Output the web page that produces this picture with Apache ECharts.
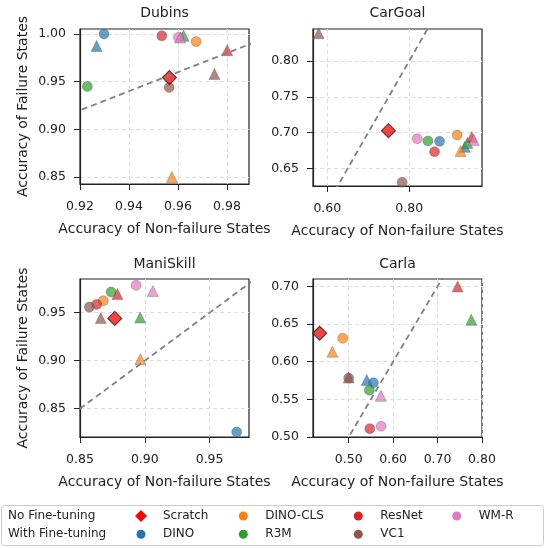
<!DOCTYPE html>
<html>
<head>
<meta charset="utf-8">
<script src="https://cdn.jsdelivr.net/npm/echarts@6/dist/echarts.min.js"></script>
<style>html,body{margin:0;padding:0;background:#fff;}#c{width:548px;height:548px;}</style>
</head>
<body>
<div id="c"></div>
<script>
// ---- data ----
const methods = ['DINO', 'DINO-CLS', 'R3M', 'ResNet', 'VC1', 'WM-R'];
const plotTitles = ['Dubins', 'CarGoal', 'ManiSkill', 'Carla'];

// per plot: values in methods order, [x (non-failure acc), y (failure acc)]
const dubinsNoFt   = [[0.9298, 1.000], [0.9674, 0.992], [0.9230, 0.9449], [0.9534, 0.998], [0.9564, 0.9438], [0.9602, 0.9962]];
const dubinsFt     = [[0.9268, 0.9874], [0.9575, 0.850], [0.9623, 0.998], [0.9801, 0.983], [0.9749, 0.958], [0.9609, 0.9962]];
const dubinsScratch = [0.9565, 0.9543];

const cargoalNoFt  = [[0.8743, 0.6877], [0.9173, 0.6966], [0.8457, 0.6882], [0.8620, 0.6732], [0.7829, 0.6306], [0.8196, 0.6914]];
const cargoalFt    = [[0.9360, 0.6800], [0.9256, 0.6742], [0.9422, 0.6854], [0.9530, 0.6938], [0.5788, 0.8387], [0.9580, 0.6896]];
const cargoalScratch = [0.7494, 0.7026];

const maniNoFt     = [[0.9709, 0.8256], [0.8680, 0.9625], [0.8740, 0.9716], [0.8629, 0.9587], [0.8572, 0.9559], [0.8933, 0.9786]];
const maniFt       = [null, [0.8966, 0.9014], [0.8964, 0.9451], [0.8789, 0.9695], [0.8660, 0.9444], [0.9062, 0.9726]];
const maniScratch  = [0.8768, 0.9441];

const carlaNoFt    = [[0.5556, 0.5720], [0.4865, 0.6311], [0.5466, 0.5622], [0.5474, 0.5111], [0.5000, 0.5782], [0.5729, 0.5142]];
const carlaFt      = [[0.5406, 0.5756], [0.4632, 0.6133], [0.7759, 0.6556], [0.7451, 0.7000], [0.5000, 0.5790], [0.5722, 0.5547]];
const carlaScratch = [0.4346, 0.6378];

// axis limits and tick labels
const xMin = [0.92, 0.565, 0.85, 0.4196];
const xMax = [0.989, 0.978, 0.9804, 0.80];
const yMin = [0.8427, 0.6253, 0.8204, 0.50];
const yMax = [1.0052, 0.8447, 0.9852, 0.7098];
const xTicks = [[0.92, 0.94, 0.96, 0.98], [0.60, 0.80], [0.85, 0.90, 0.95], [0.50, 0.60, 0.70, 0.80]];
const yTicks = [[0.85, 0.90, 0.95, 1.00], [0.65, 0.70, 0.75, 0.80], [0.85, 0.90, 0.95], [0.50, 0.55, 0.60, 0.65, 0.70]];
const diagonal = [[0, 0], [1, 1]];

// ---- style ----
const colors = {'DINO': '#1f77b4', 'DINO-CLS': '#ff7f0e', 'R3M': '#2ca02c', 'ResNet': '#d62728', 'VC1': '#8c564b', 'WM-R': '#e377c2', 'Scratch': '#ff0000'};
const FONT = 'DejaVu Sans';
const TXT = '#222';
const gridRects = [
  {left: 80, top: 29, width: 169, height: 155},
  {left: 313, top: 29, width: 169, height: 157},
  {left: 80, top: 279, width: 169, height: 158},
  {left: 313, top: 279, width: 169, height: 158}
];

const noFt = [dubinsNoFt, cargoalNoFt, maniNoFt, carlaNoFt];
const ft = [dubinsFt, cargoalFt, maniFt, carlaFt];
const scratch = [dubinsScratch, cargoalScratch, maniScratch, carlaScratch];

const grids = gridRects.map(r => Object.assign({show: true, borderColor: '#222', borderWidth: 1.2, backgroundColor: 'transparent', containLabel: false}, r));

const xAxes = [], yAxes = [];
for (let i = 0; i < 4; i++) {
  xAxes.push({
    type: 'value', gridIndex: i, min: xMin[i], max: xMax[i],
    name: 'Accuracy of Non-failure States', nameLocation: 'middle', nameGap: 38,
    nameTextStyle: {fontFamily: FONT, fontSize: 14, color: TXT},
    axisLine: {show: true, onZero: false, lineStyle: {color: '#222', width: 1.2}},
    axisTick: {show: true, length: 6, lineStyle: {color: '#222', width: 1}, customValues: xTicks[i]},
    axisLabel: {show: true, margin: 16, fontFamily: FONT, fontSize: 12.5, color: TXT, customValues: xTicks[i], formatter: v => v.toFixed(2)},
    splitLine: {show: true, lineStyle: {color: '#dddddd', width: 1, type: [4, 3]}}
  });
  yAxes.push({
    type: 'value', gridIndex: i, min: yMin[i], max: yMax[i],
    name: (i % 2 === 0) ? 'Accuracy of Failure States' : '', nameLocation: 'middle', nameGap: 50,
    nameTextStyle: {fontFamily: FONT, fontSize: 14, color: TXT},
    axisLine: {show: true, onZero: false, lineStyle: {color: '#222', width: 1.2}},
    axisTick: {show: true, length: 6, lineStyle: {color: '#222', width: 1}, customValues: yTicks[i]},
    axisLabel: {show: true, margin: 14, fontFamily: FONT, fontSize: 12.5, color: TXT, customValues: yTicks[i], formatter: v => v.toFixed(2)},
    splitLine: {show: true, lineStyle: {color: '#dddddd', width: 1, type: [4, 3]}}
  });
}

const series = [];
for (let i = 0; i < 4; i++) {
  methods.forEach((m, k) => {
    if (noFt[i][k]) series.push({
      type: 'scatter', name: m, xAxisIndex: i, yAxisIndex: i, symbol: 'circle', symbolSize: 10,
      data: [noFt[i][k]], z: 2,
      itemStyle: {color: colors[m], opacity: 0.7, borderColor: '#555', borderWidth: 0.5}
    });
    if (ft[i][k]) series.push({
      type: 'scatter', name: m, xAxisIndex: i, yAxisIndex: i, symbol: 'triangle', symbolSize: 11,
      data: [ft[i][k]], z: 2,
      itemStyle: {color: colors[m], opacity: 0.7, borderColor: '#555', borderWidth: 0.5}
    });
  });
  series.push({
    type: 'scatter', name: 'Scratch', xAxisIndex: i, yAxisIndex: i, symbol: 'diamond', symbolSize: 14,
    data: [scratch[i]], z: 3,
    itemStyle: {color: colors['Scratch'], opacity: 0.75, borderColor: '#222', borderWidth: 1.2}
  });
  series.push({
    type: 'line', xAxisIndex: i, yAxisIndex: i, data: diagonal, showSymbol: false, symbol: 'none',
    clip: true, silent: true, z: 4,
    lineStyle: {color: '#808080', width: 1.8, type: [6, 4]}
  });
}

// legend items: [name, icon, center x, row, icon size]
const legendItems = [
  ['Scratch', 'diamond', 141, 0, 12], ['DINO', 'circle', 141, 1, 9],
  ['DINO-CLS', 'circle', 243.3, 0, 9], ['R3M', 'circle', 243.3, 1, 9],
  ['ResNet', 'circle', 358.3, 0, 9], ['VC1', 'circle', 358.3, 1, 9],
  ['WM-R', 'circle', 456.7, 0, 9]
];
const rowY = [516, 534.3];
const textOffset = 22; // text start relative to icon centre
const legends = legendItems.map(([n, icon, cx, row, sz]) => ({
  data: [{name: n, icon: icon}],
  left: cx - sz / 2, top: rowY[row] - 7, padding: 0,
  itemWidth: sz, itemHeight: sz,
  selectedMode: false,
  itemStyle: {color: colors[n], opacity: 1, borderWidth: 0},
  textStyle: {fontFamily: FONT, fontSize: 12, color: TXT, lineHeight: 14, padding: [0, 0, 0, textOffset - sz / 2 - 5]}
}));

const titleCenters = [[164.5, 13], [397.5, 13], [164.5, 264], [397.5, 264]];
const graphic = [
  {type: 'rect', z: -10, shape: {x: 1.5, y: 505.5, width: 542, height: 40, r: 3}, style: {fill: '#fff', stroke: '#cccccc', lineWidth: 1}},
  {type: 'text', x: 8, y: 516, style: {text: 'No Fine-tuning', fontFamily: FONT, fontSize: 12, fill: TXT, verticalAlign: 'middle', align: 'left'}},
  {type: 'text', x: 8, y: 534.3, style: {text: 'With Fine-tuning', fontFamily: FONT, fontSize: 12, fill: TXT, verticalAlign: 'middle', align: 'left'}}
].concat(plotTitles.map((t, i) => ({
  type: 'text', x: titleCenters[i][0], y: titleCenters[i][1],
  style: {text: t, fontFamily: FONT, fontSize: 14, fill: TXT, align: 'center', verticalAlign: 'middle'}
})));

const chart = echarts.init(document.getElementById('c'), null, {renderer: 'canvas'});
chart.setOption({
  animation: false,
  backgroundColor: '#fff',
  textStyle: {fontFamily: FONT},
  grid: grids, xAxis: xAxes, yAxis: yAxes,
  legend: legends,
  graphic: graphic,
  series: series
});
</script>
</body>
</html>
